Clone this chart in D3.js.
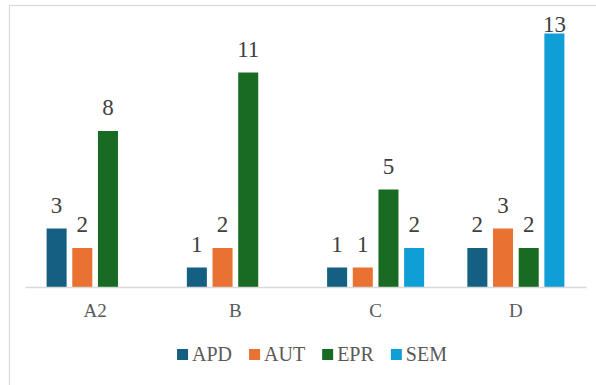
<!DOCTYPE html>
<html>
<head>
<meta charset="utf-8">
<script src="https://cdn.jsdelivr.net/npm/d3@7"></script>
<style>
  html, body { margin: 0; padding: 0; background: #ffffff; }
  svg { display: block; }
</style>
</head>
<body>
<svg id="chart" width="596" height="385"></svg>
<script>
// Counts per category and series
const categories = ["A2", "B", "C", "D"];
const seriesNames = ["APD", "AUT", "EPR", "SEM"];
const seriesColors = ["#156082", "#E97132", "#196B24", "#0F9ED5"];
const apd = [3, 1, 1, 2];
const aut = [2, 2, 1, 3];
const epr = [8, 11, 5, 2];
const sem = [null, null, 2, 13];

const seriesValues = [apd, aut, epr, sem];
const rows = [];
categories.forEach((c, ci) => {
  seriesNames.forEach((s, si) => {
    const v = seriesValues[si][ci];
    if (v !== null) rows.push({ category: c, series: s, value: v, color: seriesColors[si] });
  });
});

const svg = d3.select("#chart");
const serif = '"Liberation Serif"';

// Chart frame (extends past the window on the right and bottom)
svg.append("rect")
  .attr("x", 9.5).attr("y", 5.5)
  .attr("width", 640).attr("height", 420)
  .attr("fill", "#ffffff")
  .attr("stroke", "#d9d9d9").attr("stroke-width", 1.2);

const plot = { left: 25, right: 586, top: 14, baseline: 287 };

const x0 = d3.scaleBand().domain(categories).range([plot.left, plot.right]).paddingInner(0).paddingOuter(0);
const groupPad = 21.6;
const x1 = d3.scaleBand().domain(seriesNames)
  .range([groupPad, x0.bandwidth() - groupPad])
  .paddingInner(0.22).paddingOuter(0);
const y = d3.scaleLinear().domain([0, 14]).range([plot.baseline, plot.top]);

// Bars
svg.append("g").selectAll("rect")
  .data(rows)
  .join("rect")
  .attr("x", d => x0(d.category) + x1(d.series))
  .attr("y", d => y(d.value))
  .attr("width", x1.bandwidth())
  .attr("height", d => y(0) - y(d.value))
  .attr("fill", d => d.color);

// Value labels above bars, kept inside the plot area
svg.append("g").selectAll("text")
  .data(rows)
  .join("text")
  .attr("x", d => x0(d.category) + x1(d.series) + x1.bandwidth() / 2)
  .attr("y", d => Math.max(y(d.value) - 16, 32))
  .attr("text-anchor", "middle")
  .style("font-family", serif)
  .style("font-size", "23px")
  .attr("fill", "#404040")
  .text(d => d.value);

// Category axis
const xAxis = svg.append("g")
  .attr("transform", `translate(0,${plot.baseline})`)
  .call(d3.axisBottom(x0).tickSize(0).tickPadding(0))
  .attr("font-family", null)
  .attr("font-size", null);
xAxis.select(".domain").attr("stroke", "#d9d9d9").attr("stroke-width", 1.3);
xAxis.selectAll("text")
  .attr("dy", null)
  .attr("y", 30)
  .style("font-family", serif)
  .style("font-size", "19px")
  .attr("fill", "#595959");

// Legend
const legend = svg.append("g");
const markerSize = 11, markerGap = 4, itemGap = 17;
const styleLegendText = t => t.style("font-family", serif).style("font-size", "20px");
const widths = seriesNames.map(name => {
  const t = legend.append("text").call(styleLegendText).text(name);
  const w = t.node().getComputedTextLength();
  t.remove();
  return w;
});
const total = d3.sum(widths) + seriesNames.length * (markerSize + markerGap) + (seriesNames.length - 1) * itemGap;
let lx = 312 - total / 2;
seriesNames.forEach((name, i) => {
  legend.append("rect")
    .attr("x", lx).attr("y", 349)
    .attr("width", markerSize).attr("height", markerSize)
    .attr("fill", seriesColors[i]);
  legend.append("text")
    .call(styleLegendText)
    .attr("x", lx + markerSize + markerGap).attr("y", 360.5)
    .attr("fill", "#595959")
    .text(name);
  lx += markerSize + markerGap + widths[i] + itemGap;
});
</script>
</body>
</html>
